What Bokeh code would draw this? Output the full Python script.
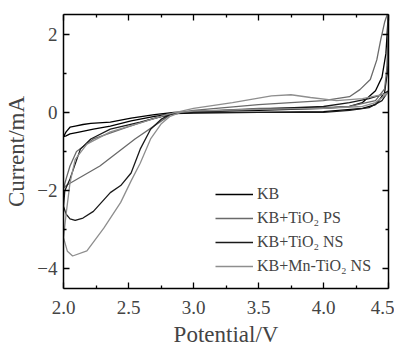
from bokeh.plotting import figure
from bokeh.models import (Range1d, FixedTicker, LinearAxis, Legend, LegendItem,
                          NumeralTickFormatter, CustomJSTickFormatter)
from bokeh.embed import file_html
from bokeh.resources import INLINE

# ---- data ----
kb_x = [2.0, 2.02, 2.05, 2.09, 2.15, 2.21, 2.3, 2.36, 2.52, 2.7, 2.85, 3.0, 3.5, 4.0, 4.2, 4.3, 4.4, 4.45, 4.48, 4.5,
        4.49, 4.47, 4.4, 4.3, 4.0, 3.5, 3.0, 2.85, 2.7, 2.52, 2.36, 2.23, 2.11, 2.05, 2.02, 2.0]
kb_y = [-0.62, -0.5, -0.38, -0.35, -0.31, -0.28, -0.26, -0.25, -0.15, -0.06, 0.0, 0.02, 0.05, 0.1, 0.15, 0.25, 0.55, 0.9, 1.5, 2.6,
        1.0, 0.5, 0.2, 0.1, 0.02, 0.0, -0.02, -0.03, -0.1, -0.22, -0.35, -0.43, -0.51, -0.55, -0.6, -0.62]

ps_x = [2.0, 2.02, 2.05, 2.1, 2.23, 2.49, 2.7, 2.85, 3.0, 3.5, 4.0, 4.2, 4.28, 4.36, 4.41, 4.44, 4.47, 4.5,
        4.49, 4.47, 4.4, 4.2, 4.0, 3.5, 3.0, 2.9, 2.83, 2.74, 2.55, 2.28, 2.02, 2.0]
ps_y = [-1.95, -1.7, -1.37, -1.0, -0.68, -0.38, -0.15, -0.02, 0.05, 0.2, 0.3, 0.4, 0.58, 0.84, 1.34, 1.85, 2.3, 2.6,
        1.2, 0.6, 0.3, 0.15, 0.12, 0.1, 0.02, 0.0, -0.05, -0.25, -0.68, -1.37, -1.87, -1.95]

ns_x = [2.0, 2.01, 2.05, 2.13, 2.21, 2.36, 2.59, 2.82, 3.0, 3.5, 4.0, 4.2, 4.35, 4.45, 4.5,
        4.45, 4.35, 4.2, 4.0, 3.5, 3.0, 2.85, 2.82, 2.75, 2.67, 2.59, 2.52, 2.44, 2.36, 2.23, 2.15, 2.09, 2.05, 2.02, 2.0]
ns_y = [-2.4, -2.0, -1.7, -0.94, -0.68, -0.43, -0.25, -0.05, 0.02, 0.08, 0.15, 0.25, 0.35, 0.45, 0.55,
        0.3, 0.12, 0.05, 0.0, 0.0, 0.0, -0.02, -0.05, -0.18, -0.43, -0.94, -1.55, -1.87, -2.05, -2.53, -2.7, -2.76, -2.72, -2.6, -2.4]

mn_x = [2.0, 2.02, 2.05, 2.09, 2.18, 2.36, 2.61, 2.8, 3.0, 3.3, 3.6, 3.75, 3.9, 4.1, 4.3, 4.45, 4.5,
        4.4, 4.3, 4.0, 3.5, 3.0, 2.9, 2.82, 2.75, 2.67, 2.59, 2.52, 2.44, 2.31, 2.18, 2.07, 2.03, 2.0]
mn_y = [-3.2, -2.6, -1.8, -1.2, -0.81, -0.5, -0.25, -0.05, 0.1, 0.25, 0.42, 0.45, 0.38, 0.3, 0.35, 0.45, 0.5,
        0.25, 0.15, 0.1, 0.08, 0.03, 0.0, -0.1, -0.3, -0.68, -1.3, -1.75, -2.3, -2.96, -3.54, -3.67, -3.55, -3.2]

labels = ["KB", "KB+TiO\u2082 PS", "KB+TiO\u2082 NS", "KB+Mn-TiO\u2082 NS"]
colors = ["#000000", "#6a6a6a", "#1a1a1a", "#8e8e8e"]

x_ticks = [2.0, 2.5, 3.0, 3.5, 4.0, 4.5]
x_minor = [2.25, 2.75, 3.25, 3.75, 4.25]
y_ticks = [-4, -2, 0, 2]
y_minor = [-3, -1, 1]
y_tick_labels = {-4: "\u22124", -2: "\u22122", 0: "0", 2: "2"}

FONT = "Liberation Serif"

p = figure(width=394, height=352, output_backend="svg", toolbar_location=None,
           x_range=Range1d(2.0, 4.5), y_range=Range1d(-4.5, 2.5),
           x_axis_location=None, y_axis_location=None,
           min_border_left=63, min_border_top=14, min_border_right=6, min_border_bottom=64)
p.grid.visible = False
p.outline_line_color = None
p.background_fill_color = "white"

renderers = []
for xs, ys, c in zip([kb_x, ps_x, ns_x, mn_x], [kb_y, ps_y, ns_y, mn_y], colors):
    r = p.line(xs, ys, line_color=c, line_width=1.3)
    renderers.append(r)

def style(ax, ticks, minor, labels_visible):
    ax.ticker = FixedTicker(ticks=ticks, minor_ticks=minor)
    ax.axis_line_width = 1.5
    ax.axis_line_color = "black"
    ax.major_tick_in = 6
    ax.major_tick_out = 0
    ax.minor_tick_in = 3
    ax.minor_tick_out = 0
    ax.major_tick_line_width = 1.3
    ax.minor_tick_line_width = 1.3
    ax.major_label_text_font = FONT
    ax.axis_label_text_font = FONT
    ax.axis_label_text_font_style = "normal"
    if labels_visible:
        ax.major_label_text_font_size = "19px"
        ax.axis_label_text_font_size = "23px"
    else:
        ax.formatter = CustomJSTickFormatter(code="return ''")
        ax.major_label_text_font_size = "1px"
        ax.major_label_standoff = 0
        ax.axis_label_standoff = 0

xb = LinearAxis(axis_label="Potential/V")
style(xb, x_ticks, x_minor, True)
xb.formatter = NumeralTickFormatter(format="0.0")
xb.major_label_standoff = 12
xb.axis_label_standoff = 5
p.add_layout(xb, "below")

yl = LinearAxis(axis_label="Current/mA")
style(yl, y_ticks, y_minor, True)
yl.major_label_overrides = y_tick_labels
yl.major_label_standoff = 6
yl.axis_label_standoff = 5
p.add_layout(yl, "left")

xt = LinearAxis()
style(xt, x_ticks, x_minor, False)
p.add_layout(xt, "above")

yr = LinearAxis()
style(yr, y_ticks, y_minor, False)
p.add_layout(yr, "right")

legend = Legend(items=[LegendItem(label=l, renderers=[r]) for l, r in zip(labels, renderers)],
                location=(152, 12), border_line_color=None, background_fill_alpha=0,
                label_text_font=FONT, label_text_font_size="16px",
                glyph_width=38, glyph_height=20, label_height=20, spacing=4,
                padding=0, margin=0, label_standoff=4)
p.add_layout(legend, "center")

open("out.html", "w").write(file_html(p, INLINE))
